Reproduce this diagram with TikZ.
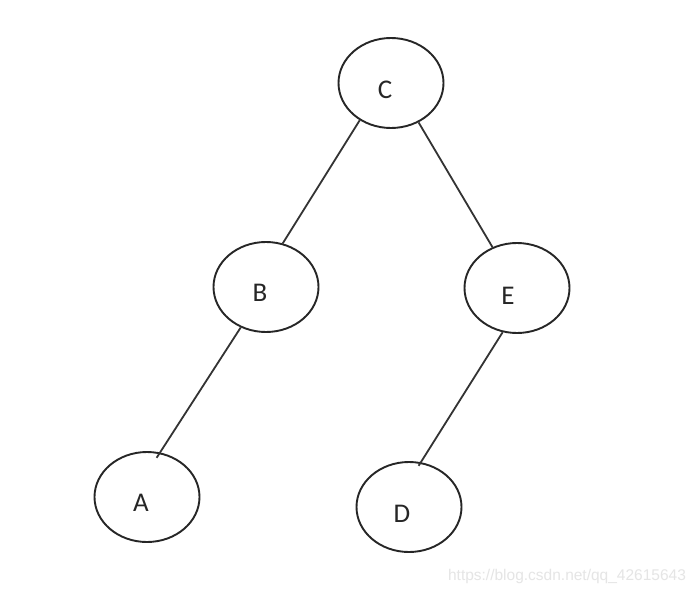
\documentclass[tikz,border=0pt]{standalone}
\usepackage{fontspec}
\setmainfont{Carlito}
\newfontfamily\wmfont{Liberation Sans}
\usetikzlibrary{shapes.geometric}
\begin{document}
\begin{tikzpicture}[x=1pt,y=-1pt,
  treenode/.style={draw=black!85,line width=1.9pt,ellipse,minimum width=105pt,minimum height=90pt,inner sep=0pt},
  lbl/.style={font=\fontsize{27}{29}\selectfont,text=black!85},
  edge/.style={draw=black!80,line width=1.8pt}]
\useasboundingbox[fill=white] (0,0) rectangle (698,594);
\node[treenode] (C) at (391,83) {};
\node[treenode] (B) at (266,287) {};
\node[treenode] (E) at (517,288) {};
\node[treenode] (A) at (147,497) {};
\node[treenode] (D) at (409,507) {};
\node[lbl] (Ct) at (385,90) {C};
\node[lbl] (Bt) at (260,293) {B};
\node[lbl] (Et) at (508,296) {E};
\node[lbl] (At) at (141,503) {A};
\node[lbl] (Dt) at (402,514) {D};
\draw[edge] (C.230) -- (B.69);
\draw[edge] (C.305) -- (E.121);
\draw[edge] (B.238) -- ([yshift=-6pt]A.78);
\draw[edge] (E.252) -- ([yshift=-4pt]D.78);
\node[font=\wmfont\fontsize{15.5}{17}\selectfont,text=black!10] (wm) at (567,576) {https://blog.csdn.net/qq\_42615643};
\end{tikzpicture}
\end{document}
